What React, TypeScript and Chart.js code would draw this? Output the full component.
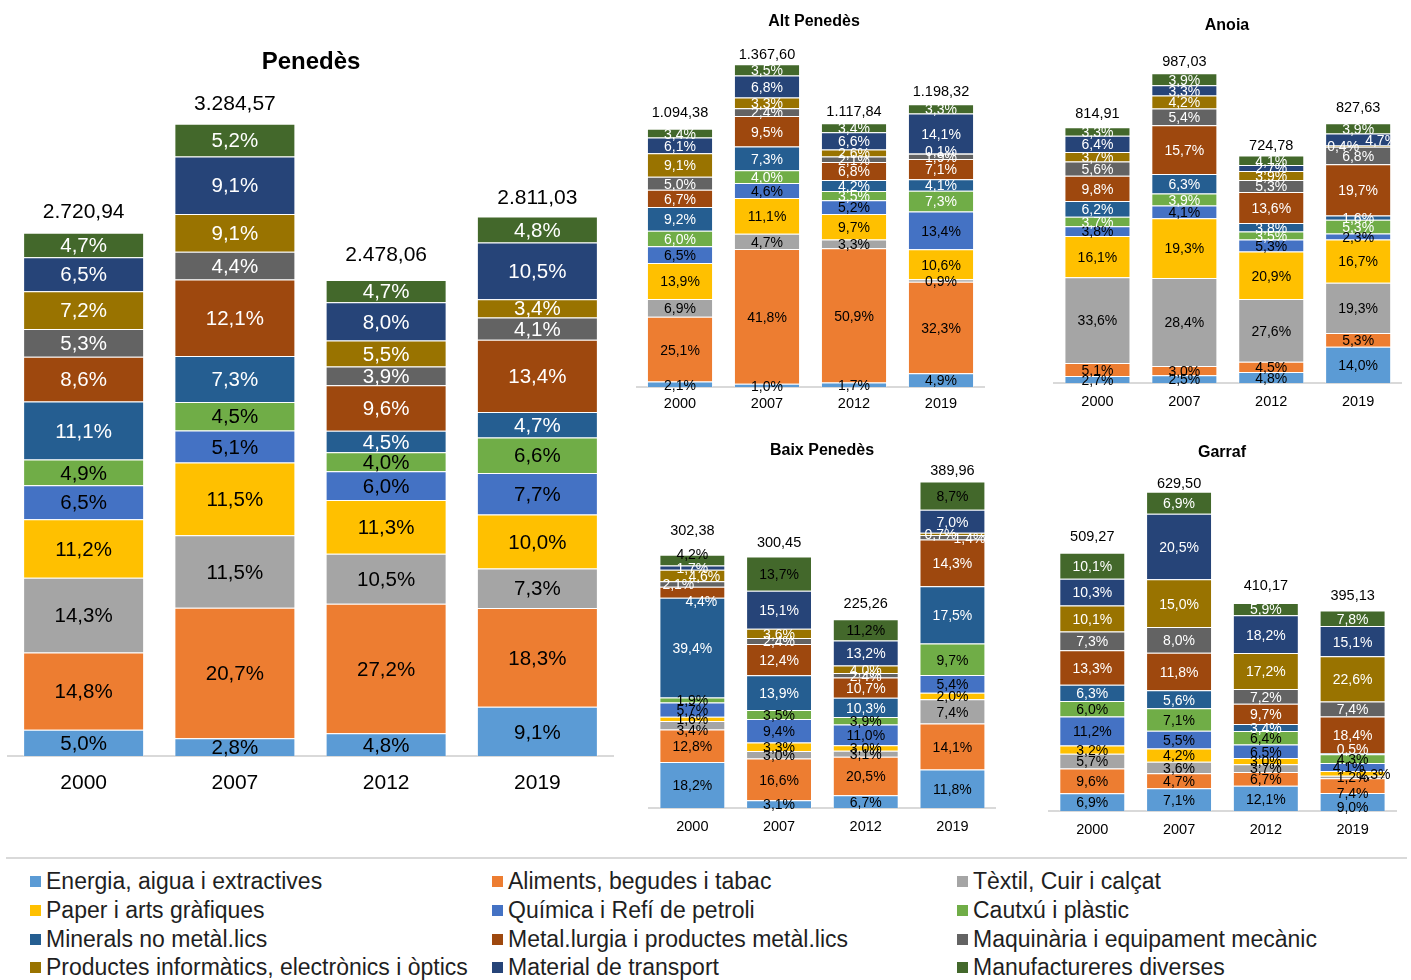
import React, { useEffect, useRef } from "react";
import { Chart, registerables } from "chart.js";

Chart.register(...registerables);

// ---------------- DATA ----------------
const years = ["2000", "2007", "2012", "2019"];

const sectors = [
  "Energia, aigua i extractives",
  "Aliments, begudes i tabac",
  "Tèxtil, Cuir i calçat",
  "Paper i arts gràfiques",
  "Química i Refí de petroli",
  "Cautxú i plàstic",
  "Minerals no metàl.lics",
  "Metal.lurgia i productes metàl.lics",
  "Maquinària i equipament mecànic",
  "Productes informàtics, electrònics i òptics",
  "Material de transport",
  "Manufactureres diverses",
];

const sectorColors = [
  "#5B9BD5", "#ED7D31", "#A5A5A5", "#FFC000", "#4472C4", "#70AD47",
  "#255E91", "#9E480E", "#636363", "#997300", "#264478", "#43682B",
];

// Penedès (shares in %, per year, in sector order)
const penedesTotals = [2720.94, 3284.57, 2478.06, 2811.03];
const penedes2000 = [5.0, 14.8, 14.3, 11.2, 6.5, 4.9, 11.1, 8.6, 5.3, 7.2, 6.5, 4.7];
// the bar segment for "Productes informàtics" 2007 is drawn ~6.0% high although labelled 9,1%
const penedes2007 = [2.8, 20.7, 11.5, 11.5, 5.1, 4.5, 7.3, 12.1, 4.4, 6.0, 9.1, 5.2];
const penedes2012 = [4.8, 27.2, 10.5, 11.3, 6.0, 4.0, 4.5, 9.6, 3.9, 5.5, 8.0, 4.7];
const penedes2019 = [9.1, 18.3, 7.3, 10.0, 7.7, 6.6, 4.7, 13.4, 4.1, 3.4, 10.5, 4.8];
const penedesLabelOverrides: Record<string, string> = { "9-1": "9,1%" };

// Alt Penedès
const altTotals = [1094.38, 1367.6, 1117.84, 1198.32];
const alt2000 = [2.1, 25.1, 6.9, 13.9, 6.5, 6.0, 9.2, 6.7, 5.0, 9.1, 6.1, 3.4];
const alt2007 = [1.0, 41.8, 4.7, 11.1, 4.6, 4.0, 7.3, 9.5, 2.4, 3.3, 6.8, 3.5];
const alt2012 = [1.7, 50.9, 3.3, 9.7, 5.2, 3.5, 4.2, 6.8, 2.1, 2.6, 6.6, 3.4];
const alt2019 = [4.9, 32.3, 0.9, 10.6, 13.4, 7.3, 4.1, 7.1, 1.9, 0.1, 14.1, 3.3];

// Anoia
const anoiaTotals = [814.91, 987.03, 724.78, 827.63];
const anoia2000 = [2.7, 5.1, 33.6, 16.1, 3.8, 3.7, 6.2, 9.8, 5.6, 3.7, 6.4, 3.3];
const anoia2007 = [2.5, 3.0, 28.4, 19.3, 4.1, 3.9, 6.3, 15.7, 5.4, 4.2, 3.3, 3.9];
const anoia2012 = [4.8, 4.5, 27.6, 20.9, 5.3, 3.5, 3.8, 13.6, 5.3, 3.9, 2.7, 4.1];
const anoia2019 = [14.0, 5.3, 19.3, 16.7, 2.3, 5.3, 1.6, 19.7, 6.8, 0.4, 4.7, 3.9];

// Baix Penedès
const baixTotals = [302.38, 300.45, 225.26, 389.96];
const baix2000 = [18.2, 12.8, 3.4, 1.6, 5.7, 1.9, 39.4, 4.4, 2.1, 4.6, 1.7, 4.2];
const baix2007 = [3.1, 16.6, 3.0, 3.3, 9.4, 3.5, 13.9, 12.4, 2.4, 3.6, 15.1, 13.7];
const baix2012 = [6.7, 20.5, 3.1, 3.0, 11.0, 3.9, 10.3, 10.7, 2.4, 4.0, 13.2, 11.2];
const baix2019 = [11.8, 14.1, 7.4, 2.0, 5.4, 9.7, 17.5, 14.3, 1.4, 0.7, 7.0, 8.7];

// Garraf
const garrafTotals = [509.27, 629.5, 410.17, 395.13];
const garraf2000 = [6.9, 9.6, 5.7, 3.2, 11.2, 6.0, 6.3, 13.3, 7.3, 10.1, 10.3, 10.1];
const garraf2007 = [7.1, 4.7, 3.6, 4.2, 5.5, 7.1, 5.6, 11.8, 8.0, 15.0, 20.5, 6.9];
const garraf2012 = [12.1, 6.7, 3.7, 3.0, 6.5, 6.4, 3.4, 9.7, 7.2, 17.2, 18.2, 5.9];
const garraf2019 = [9.0, 7.4, 1.2, 2.3, 4.1, 4.3, 0.5, 18.4, 7.4, 22.6, 15.1, 7.8];

// ---------------- STYLE / LAYOUT ----------------
const FONT = '"Liberation Sans", Arial, Helvetica, sans-serif';
const TEXT_SHIFT = 1.5;

type Spec = {
  title: string;
  totals: number[];
  shares: number[][];
  overrides: Record<string, string>;
  white: number[]; // 1 = white label text for that sector
  canvas: { x: number; y: number; w: number; h: number };
  area: { l: number; t: number; r: number; b: number };
  yMax: number;
  barPct: number;
  font: number;
  pctFont: number;
  titleFont: number;
  titleX: number;
  titleBase: number;
  tickPad: number;
  totalGap: number[];
  offsets: Record<string, [number, number]>;
};

const specs: Spec[] = [
  {
    title: "Penedès",
    totals: penedesTotals,
    shares: [penedes2000, penedes2007, penedes2012, penedes2019],
    overrides: penedesLabelOverrides,
    white: [0, 0, 0, 0, 0, 0, 1, 1, 1, 1, 1, 1],
    canvas: { x: 0, y: 30, w: 625, h: 790 },
    area: { l: 8, t: 80, r: 613, b: 756 },
    yMax: 3518.8,
    barPct: 0.8,
    font: 21,
    pctFont: 20.5,
    titleFont: 24,
    titleX: 311,
    titleBase: 69,
    tickPad: 14.5,
    totalGap: [22, 21, 26, 20],
    offsets: {},
  },
  {
    title: "Alt Penedès",
    totals: altTotals,
    shares: [alt2000, alt2007, alt2012, alt2019],
    overrides: {},
    white: [0, 0, 0, 0, 0, 1, 1, 1, 1, 1, 1, 1],
    canvas: { x: 630, y: 0, w: 362, h: 420 },
    area: { l: 636.5, t: 60, r: 984.5, b: 387 },
    yMax: 1385.8,
    barPct: 0.76,
    font: 14.5,
    pctFont: 14,
    titleFont: 16,
    titleX: 814,
    titleBase: 26,
    tickPad: 8.5,
    totalGap: [17, 11, 12.5, 14],
    offsets: { "9-3": [0, -3] },
  },
  {
    title: "Anoia",
    totals: anoiaTotals,
    shares: [anoia2000, anoia2007, anoia2012, anoia2019],
    overrides: {},
    white: [0, 0, 0, 0, 0, 1, 1, 1, 1, 1, 1, 1],
    canvas: { x: 1046, y: 0, w: 365, h: 420 },
    area: { l: 1054, t: 60, r: 1401.6, b: 383 },
    yMax: 1029.3,
    barPct: 0.76,
    font: 14.5,
    pctFont: 14,
    titleFont: 16,
    titleX: 1227,
    titleBase: 30,
    tickPad: 10.5,
    totalGap: [15, 12.5, 11, 16.5],
    offsets: { "9-3": [-15, 0], "10-3": [23, 0] },
  },
  {
    title: "Baix Penedès",
    totals: baixTotals,
    shares: [baix2000, baix2007, baix2012, baix2019],
    overrides: {},
    white: [0, 0, 0, 0, 0, 0, 1, 1, 1, 1, 1, 0],
    canvas: { x: 640, y: 430, w: 365, h: 420 },
    area: { l: 649, t: 470, r: 995.8, b: 808 },
    yMax: 403.6,
    barPct: 0.76,
    font: 14.5,
    pctFont: 14,
    titleFont: 16,
    titleX: 822,
    titleBase: 455,
    tickPad: 10.5,
    totalGap: [25, 15, 16.5, 11.5],
    offsets: {
      "11-0": [0, -6],
      "9-0": [12, 0],
      "8-0": [-14, 0],
      "7-0": [9, 8],
      "2-0": [0, 4],
      "9-3": [-12, 0],
      "8-3": [17, 0],
    },
  },
  {
    title: "Garraf",
    totals: garrafTotals,
    shares: [garraf2000, garraf2007, garraf2012, garraf2019],
    overrides: {},
    white: [0, 0, 0, 0, 0, 0, 1, 1, 1, 1, 1, 1],
    canvas: { x: 1040, y: 430, w: 371, h: 420 },
    area: { l: 1048.9, t: 475, r: 1396, b: 811 },
    yMax: 662.5,
    barPct: 0.76,
    font: 14.5,
    pctFont: 14,
    titleFont: 16,
    titleX: 1222,
    titleBase: 457,
    tickPad: 10,
    totalGap: [17, 9.5, 18, 16],
    offsets: {
      "3-3": [22, 0],
      "4-3": [-4, 0],
      "0-3": [0, 5],
      "1-3": [0, 7],
      "6-3": [0, -5],
    },
  },
];

// ---------------- HELPERS ----------------
function pctText(v: number): string {
  return v.toFixed(1).replace(".", ",") + "%";
}

function numText(v: number): string {
  const [i, d] = v.toFixed(2).split(".");
  const withDots = i.replace(/\B(?=(\d{3})+(?!\d))/g, ".");
  return withDots + "," + d;
}

function makeLabelPlugin(spec: Spec) {
  return {
    id: "segmentLabels",
    afterDatasetsDraw(chart: any) {
      const ctx: CanvasRenderingContext2D = chart.ctx;
      ctx.save();
      ctx.textAlign = "center";
      ctx.textBaseline = "middle";
      ctx.font = `${spec.pctFont}px ${FONT}`;
      chart.data.datasets.forEach((_ds: any, si: number) => {
        const meta = chart.getDatasetMeta(si);
        meta.data.forEach((el: any, yi: number) => {
          const key = `${si}-${yi}`;
          const off = spec.offsets[key] || [0, 0];
          const text = spec.overrides[key] ?? pctText(spec.shares[yi][si]);
          ctx.fillStyle = spec.white[si] ? "#ffffff" : "#000000";
          ctx.fillText(text, el.x + off[0], (el.y + el.base) / 2 + off[1] + TEXT_SHIFT);
        });
      });
      // totals above each stack
      ctx.font = `${spec.font}px ${FONT}`;
      ctx.fillStyle = "#000000";
      years.forEach((_y, yi) => {
        let top = Infinity;
        let x = 0;
        chart.data.datasets.forEach((_ds: any, si: number) => {
          const el = chart.getDatasetMeta(si).data[yi];
          top = Math.min(top, el.y, el.base);
          x = el.x;
        });
        ctx.fillText(numText(spec.totals[yi]), x, top - spec.totalGap[yi] + TEXT_SHIFT);
      });
      // title
      ctx.font = `bold ${spec.titleFont}px ${FONT}`;
      ctx.textBaseline = "alphabetic";
      ctx.fillText(spec.title, spec.titleX - spec.canvas.x, spec.titleBase - spec.canvas.y);
      ctx.restore();
    },
  };
}

function RegionChart({ spec }: { spec: Spec }) {
  const ref = useRef<HTMLCanvasElement | null>(null);
  useEffect(() => {
    const canvas = ref.current;
    if (!canvas) return;
    const { canvas: cv, area } = spec;
    const xAxisHeight = cv.y + cv.h - area.b;
    const chart = new Chart(canvas, {
      type: "bar",
      data: {
        labels: years,
        datasets: sectors.map((name, si) => ({
          label: name,
          data: years.map((_y, yi) => (spec.totals[yi] * spec.shares[yi][si]) / 100),
          backgroundColor: sectorColors[si],
          borderColor: "rgba(255,255,255,0.45)",
          borderWidth: 1,
          barPercentage: spec.barPct,
          categoryPercentage: 1,
        })),
      },
      options: {
        responsive: false,
        animation: false,
        devicePixelRatio: 1,
        layout: {
          padding: {
            left: area.l - cv.x,
            right: cv.x + cv.w - area.r,
            top: area.t - cv.y,
            bottom: 0,
          },
        },
        plugins: {
          legend: { display: false },
          tooltip: { enabled: false },
          title: { display: false },
        },
        scales: {
          x: {
            stacked: true,
            grid: { display: false, drawTicks: false },
            border: { display: true, color: "#d9d9d9", width: 2 },
            ticks: {
              padding: spec.tickPad,
              color: "#000000",
              font: { family: FONT, size: spec.font },
            },
            afterFit: (scale: any) => {
              scale.height = xAxisHeight;
            },
          },
          y: {
            stacked: true,
            display: false,
            min: 0,
            max: spec.yMax,
          },
        },
      } as any,
      plugins: [makeLabelPlugin(spec)],
    });
    return () => chart.destroy();
  }, [spec]);
  return (
    <canvas
      ref={ref}
      width={spec.canvas.w}
      height={spec.canvas.h}
      style={{
        position: "absolute",
        left: spec.canvas.x,
        top: spec.canvas.y,
        width: spec.canvas.w,
        height: spec.canvas.h,
      }}
    />
  );
}

const legendCols = [30, 492, 957];
const legendRows = [881, 910, 939, 967];

function Legend() {
  return (
    <>
      <div
        style={{
          position: "absolute",
          left: 6,
          top: 857,
          width: 1401,
          height: 2,
          background: "#d9d9d9",
        }}
      />
      {sectors.map((name, i) => {
        const col = i % 3;
        const row = Math.floor(i / 3);
        return (
          <div
            key={name}
            style={{
              position: "absolute",
              left: legendCols[col],
              top: legendRows[row] - 15,
              height: 30,
              display: "flex",
              alignItems: "center",
              whiteSpace: "nowrap",
              fontFamily: FONT,
              fontSize: 23,
              color: "#1f1f1f",
            }}
          >
            <span
              style={{
                display: "inline-block",
                width: 11,
                height: 11,
                background: sectorColors[i],
                marginRight: 5,
              }}
            />
            <span>{name}</span>
          </div>
        );
      })}
    </>
  );
}

export default function App() {
  return (
    <div
      style={{
        position: "absolute",
        left: 0,
        top: 0,
        width: 1411,
        height: 980,
        background: "#ffffff",
        overflow: "hidden",
      }}
    >
      {specs.map((s) => (
        <RegionChart key={s.title} spec={s} />
      ))}
      <Legend />
    </div>
  );
}
